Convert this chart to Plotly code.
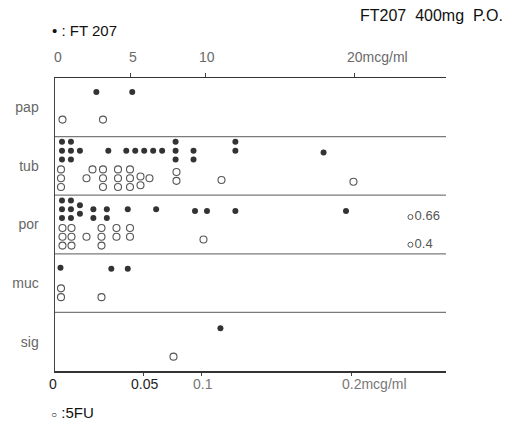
import plotly.graph_objects as go

# ---------------- data ----------------
CATEGORIES = ["pap", "tub", "por", "muc", "sig"]

# FT207 concentrations (mcg/ml, top axis) -- filled dots; *_STACK = stack slot in the dot column
PAP_FT207 = [2.7, 5.1]
PAP_FT207_STACK = [1, 1]
TUB_FT207 = [0.4, 0.4, 0.4, 1.0, 1.0, 1.0, 1.6, 3.5, 4.7, 5.3, 5.9, 6.5, 7.1,
             8.0, 8.0, 8.0, 9.2, 9.2, 12.0, 12.0, 17.9]
TUB_FT207_STACK = [0, 1, 2, 0, 1, 2, 1, 1, 1, 1, 1, 1, 1,
                   0, 1, 2, 1, 2, 0, 1, 1.2]
POR_FT207 = [0.4, 0.4, 0.4, 1.0, 1.0, 1.0, 1.6, 1.6, 2.5, 2.5, 3.4, 3.4,
             4.8, 6.7, 9.3, 10.1, 12.0, 19.4]
POR_FT207_STACK = [0, 1, 2, 0, 1, 2, 0.55, 1.5, 1, 2, 1, 2,
                   1, 1, 1.2, 1.2, 1.2, 1.2]
MUC_FT207 = [0.3, 3.7, 4.8]
MUC_FT207_STACK = [1, 1.1, 1.1]
SIG_FT207 = [11.0]
SIG_FT207_STACK = [1.2]

# 5FU concentrations (mcg/ml, bottom axis) -- open circles
PAP_5FU = [0.007, 0.034]
PAP_5FU_STACK = [1, 1]
TUB_5FU = [0.006, 0.006, 0.006, 0.023, 0.027, 0.034, 0.034, 0.034,
           0.044, 0.044, 0.044, 0.052, 0.052, 0.052, 0.059, 0.059,
           0.065, 0.083, 0.083, 0.113, 0.201]
TUB_5FU_STACK = [0, 1, 2, 1, 0, 0, 1, 2,
                 0, 1, 2, 0, 1, 2, 0.8, 1.8,
                 1, 0.3, 1.3, 1.2, 1.4]
POR_5FU = [0.007, 0.007, 0.007, 0.013, 0.013, 0.013, 0.023,
           0.033, 0.033, 0.033, 0.043, 0.043, 0.052, 0.052, 0.101]
POR_5FU_STACK = [0, 1, 2, 0, 1, 2, 1,
                 0, 1, 2, 0, 1, 0, 1, 1.3]
MUC_5FU = [0.006, 0.006, 0.033]
MUC_5FU_STACK = [0.2, 1.2, 1.2]
SIG_5FU = [0.081]
SIG_5FU_STACK = [1.3]

# off-scale 5FU values in "por"
OFFSCALE_5FU = [0.66, 0.4]
OFFSCALE_5FU_STACK = [-1.25, 1.9]

TOP_TICK_VALS = [0, 5, 10, 20]
TOP_TICK_TEXT = ["0", "5", "10", "20mcg/ml"]
BOTTOM_TICK_VALS = [0, 0.0607, 0.1, 0.2]
BOTTOM_TICK_TEXT = ["0", "0.05", "0.1", "0.2mcg/ml"]

FT207_ROWS = [(PAP_FT207, PAP_FT207_STACK), (TUB_FT207, TUB_FT207_STACK),
              (POR_FT207, POR_FT207_STACK), (MUC_FT207, MUC_FT207_STACK),
              (SIG_FT207, SIG_FT207_STACK)]
FU_ROWS = [(PAP_5FU, PAP_5FU_STACK), (TUB_5FU, TUB_5FU_STACK),
           (POR_5FU, POR_5FU_STACK), (MUC_5FU, MUC_5FU_STACK),
           (SIG_5FU, SIG_5FU_STACK)]

# ---------------- layout constants ----------------
W, H = 516, 424
ML, MR, MT, MB = 55, 70, 78, 53
FILLED_OFF, OPEN_OFF, STEP = 0.09, 0.56, 0.15   # within-row offsets (row = 1 unit)
OFFSCALE_X = 0.239
X_RANGE = [0.002, 0.2627]
X2_RANGE = [-0.067, 26.09]
FONT = "Liberation Sans, Arial, sans-serif"
pw, ph = W - ML - MR, H - MT - MB


def px_to_paper_x(px):
    return (px - ML) / pw


def px_to_paper_y(py):
    return (H - MB - py) / ph


def bottom_to_paper(v):
    return (v - X_RANGE[0]) / (X_RANGE[1] - X_RANGE[0])


fig = go.Figure()

fx, fy = [], []
for i, (vals, stack) in enumerate(FT207_ROWS):
    for v, s in zip(vals, stack):
        fx.append(v)
        fy.append(i + FILLED_OFF + STEP * s)
fig.add_trace(go.Scatter(x=fx, y=fy, mode="markers", xaxis="x2", yaxis="y",
                         marker=dict(symbol="circle", size=6, color="#333333"),
                         name="FT207", showlegend=False, hoverinfo="skip"))

ox, oy = [], []
for i, (vals, stack) in enumerate(FU_ROWS):
    for v, s in zip(vals, stack):
        ox.append(v)
        oy.append(i + OPEN_OFF + STEP * s)
fig.add_trace(go.Scatter(x=ox, y=oy, mode="markers", xaxis="x", yaxis="y",
                         marker=dict(symbol="circle-open", size=7, color="#555555",
                                     line=dict(width=1.1, color="#555555")),
                         name="5FU", showlegend=False, hoverinfo="skip"))

por_i = CATEGORIES.index("por")
fig.add_trace(go.Scatter(
    x=[OFFSCALE_X] * len(OFFSCALE_5FU),
    y=[por_i + OPEN_OFF + STEP * s for s in OFFSCALE_5FU_STACK],
    mode="markers+text", xaxis="x", yaxis="y",
    text=[f"{v:g}" for v in OFFSCALE_5FU], textposition="middle right",
    textfont=dict(family=FONT, size=13, color="#555555"),
    marker=dict(symbol="circle-open", size=5, color="#555555",
                line=dict(width=1, color="#555555")),
    showlegend=False, cliponaxis=False, hoverinfo="skip"))

shapes = []
for i in range(1, len(CATEGORIES)):
    shapes.append(dict(type="line", xref="paper", yref="y", x0=0, x1=1, y0=i, y1=i,
                       line=dict(color="#7a7a7a", width=1.3)))

ann = []
for v, t in zip(TOP_TICK_VALS, TOP_TICK_TEXT):
    last = t.endswith("mcg/ml")
    ann.append(dict(xref="x2", yref="paper", x=v, y=1, yshift=21, text=t,
                    showarrow=False, xanchor="left" if last else "center",
                    xshift=-10 if last else 2, yanchor="middle",
                    font=dict(family=FONT, size=14, color="#6a6a6a")))
bottom_colors = ["#222222", "#222222", "#777777", "#777777"]
for v, t, c in zip(BOTTOM_TICK_VALS, BOTTOM_TICK_TEXT, bottom_colors):
    last = t.endswith("mcg/ml")
    ann.append(dict(xref="paper", yref="paper", x=bottom_to_paper(v), y=0, yshift=-13,
                    text=t, showarrow=False, xanchor="left" if last else "center",
                    xshift=-12 if last else 1, yanchor="middle",
                    font=dict(family=FONT, size=14, color=c)))

ann.append(dict(xref="paper", yref="paper", x=px_to_paper_x(50), y=px_to_paper_y(30),
                text="• : FT 207", showarrow=False, xanchor="left", yanchor="middle",
                font=dict(family=FONT, size=15, color="#111111")))
ann.append(dict(xref="paper", yref="paper", x=px_to_paper_x(505), y=px_to_paper_y(16),
                text="FT207  400mg  P.O.", showarrow=False, xanchor="right", yanchor="middle",
                font=dict(family=FONT, size=16, color="#111111")))
ann.append(dict(xref="paper", yref="paper", x=px_to_paper_x(49), y=px_to_paper_y(412),
                text="<span style='font-size:10px'>○</span> :5FU", showarrow=False,
                xanchor="left", yanchor="middle",
                font=dict(family=FONT, size=15, color="#111111")))

fig.update_layout(
    width=W, height=H,
    margin=dict(l=ML, r=MR, t=MT, b=MB, pad=0),
    paper_bgcolor="white", plot_bgcolor="white",
    showlegend=False, hovermode=False,
    xaxis=dict(range=X_RANGE, showgrid=False, zeroline=False,
               showline=True, linecolor="#333333", linewidth=2,
               ticks="outside", ticklen=3, tickcolor="#444444",
               tickvals=BOTTOM_TICK_VALS[1:], showticklabels=False),
    xaxis2=dict(range=X2_RANGE, overlaying="x", side="top", anchor="y",
                showgrid=False, zeroline=False, showline=True,
                linecolor="#333333", linewidth=1.5, ticks="outside", ticklen=4,
                tickcolor="#444444", tickvals=TOP_TICK_VALS[1:], showticklabels=False),
    yaxis=dict(range=[len(CATEGORIES), 0], showgrid=False, zeroline=False,
               showline=True, linecolor="#444444", linewidth=1.5, ticks="",
               tickvals=[i + 0.5 for i in range(len(CATEGORIES))],
               ticktext=CATEGORIES, ticklabelstandoff=12,
               tickfont=dict(family=FONT, size=14, color="#666666")),
    shapes=shapes, annotations=ann,
)

fig.write_html("out.html", config={"displayModeBar": False, "staticPlot": True},
               post_script="document.body.style.margin='0';document.body.style.overflow='hidden';")
